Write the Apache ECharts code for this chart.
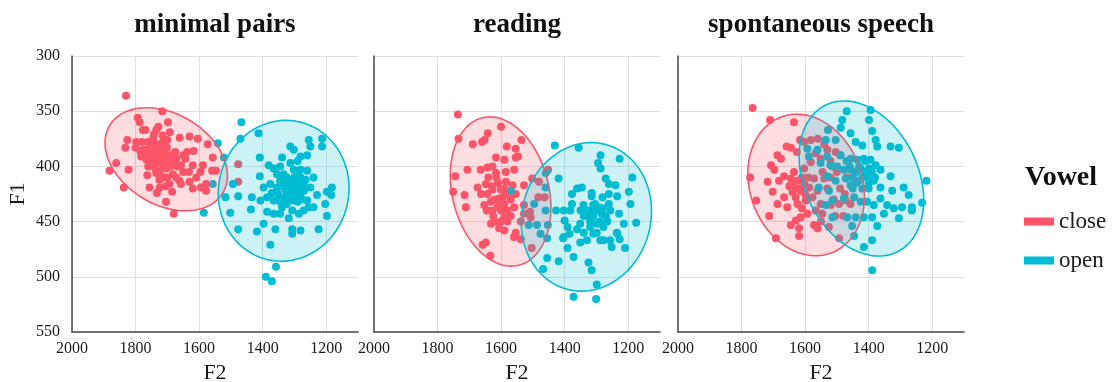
<!DOCTYPE html>
<html>
<head>
<meta charset="utf-8">
<script src="https://cdn.jsdelivr.net/npm/echarts@6/dist/echarts.min.js"></script>
<style>html,body{margin:0;padding:0;background:#fff}#c{width:1115px;height:382px}</style>
</head>
<body>
<div id="c"></div>
<script>
// ---------- data ----------
const panels = ['minimal pairs', 'reading', 'spontaneous speech'];
const vowels = ['close', 'open'];
const xTicks = [2000, 1800, 1600, 1400, 1200];
const yTicks = [300, 350, 400, 450, 500, 550];

// [F2, F1]
const mpClose = [[1830,336],[1716,350],[1793,356],[1787,360],[1698,360],[1728,364],[1735,367],[1742,371],[1777,367],[1769,367],[1692,369],[1661,374],[1630,373],[1604,375],[1573,380],[1826,376],[1832,383],[1800,383],[1785,386],[1769,389],[1753,386],[1722,383],[1701,383],[1675,387],[1638,387],[1617,386],[1861,397],[1882,404],[1822,403],[1837,419],[1782,391],[1766,394],[1750,391],[1735,396],[1714,399],[1693,390],[1672,393],[1657,399],[1620,399],[1588,399],[1557,392],[1547,404],[1763,408],[1735,406],[1704,402],[1683,407],[1662,413],[1630,414],[1609,410],[1578,416],[1756,419],[1724,419],[1693,416],[1657,416],[1733,424],[1685,423],[1620,420],[1578,422],[1704,432],[1680,443],[1477,398],[1477,414],[1798,378],[1761,378],[1740,381],[1714,378],[1742,386],[1727,390],[1706,391],[1680,396],[1643,393],[1632,405],[1596,405],[1559,404],[1594,419],[1774,385],[1672,410],[1724,405],[1750,378],[1710,388],[1690,400],[1745,398],[1720,395],[1700,410],[1650,405],[1760,400],[1745,375],[1730,380],[1715,372],[1700,376],[1755,392],[1738,402],[1712,410],[1695,395],[1668,400],[1650,390],[1725,412],[1705,418],[1760,385],[1780,378]];
const mpOpen = [[1467,360],[1470,375],[1541,379],[1522,392],[1413,370],[1409,392],[1557,416],[1585,442],[1517,428],[1502,442],[1477,427],[1477,457],[1494,416],[1437,439],[1418,459],[1397,452],[1376,471],[1360,457],[1358,491],[1390,500],[1371,504],[1381,399],[1365,402],[1339,392],[1313,382],[1302,385],[1281,391],[1260,390],[1255,376],[1250,382],[1213,375],[1213,382],[1397,419],[1376,416],[1355,419],[1345,413],[1334,407],[1324,410],[1313,419],[1302,416],[1292,407],[1281,410],[1260,404],[1271,416],[1240,410],[1229,426],[1198,423],[1182,419],[1184,426],[1203,434],[1198,445],[1224,457],[1407,431],[1386,428],[1365,431],[1345,428],[1324,425],[1302,431],[1281,428],[1260,431],[1255,437],[1271,440],[1286,443],[1307,440],[1318,447],[1345,443],[1365,443],[1386,441],[1307,457],[1307,461],[1281,458],[1355,407],[1302,403],[1313,397],[1281,403],[1250,419],[1324,434],[1371,424],[1339,437],[1292,424],[1240,437],[1409,409],[1434,428],[1330,420],[1310,425],[1290,432],[1350,425],[1320,415],[1300,410],[1270,422],[1335,430],[1340,415],[1325,418],[1315,412],[1305,422],[1295,415],[1285,420],[1345,432],[1330,428],[1318,430],[1300,425],[1275,430],[1265,412],[1345,400],[1290,395]];
const rdClose = [[1736,353],[1600,364],[1642,370],[1652,376],[1660,378],[1734,375],[1689,380],[1582,382],[1536,376],[1554,384],[1547,391],[1554,392],[1616,392],[1590,394],[1559,403],[1744,409],[1751,423],[1715,426],[1706,403],[1711,437],[1664,403],[1643,401],[1627,400],[1616,406],[1674,419],[1648,416],[1627,421],[1585,414],[1564,417],[1528,417],[1502,411],[1481,414],[1653,435],[1632,432],[1606,429],[1590,434],[1559,437],[1528,435],[1632,452],[1590,458],[1606,456],[1559,464],[1538,466],[1554,460],[1658,471],[1648,469],[1634,481],[1528,443],[1507,446],[1538,450],[1590,446],[1483,428],[1463,428],[1452,403],[1509,441],[1504,474],[1663,425],[1627,440],[1585,423],[1554,425],[1601,421],[1643,425],[1611,437],[1580,450],[1620,430],[1600,440],[1570,430],[1640,410],[1610,415],[1580,440],[1625,445],[1595,428],[1615,410],[1605,432],[1590,420],[1575,425],[1630,418],[1645,440],[1620,450],[1600,450],[1585,405],[1570,445]];
const rdOpen = [[1431,381],[1356,383],[1287,390],[1295,397],[1287,402],[1227,393],[1187,410],[1460,406],[1419,411],[1460,419],[1496,434],[1513,453],[1487,453],[1460,440],[1476,461],[1455,465],[1455,483],[1468,493],[1419,486],[1405,465],[1391,474],[1372,482],[1325,487],[1315,494],[1299,507],[1372,518],[1301,520],[1377,425],[1361,420],[1346,419],[1315,424],[1315,427],[1271,411],[1261,416],[1240,417],[1235,427],[1198,423],[1193,434],[1229,443],[1214,452],[1175,451],[1234,461],[1227,466],[1210,474],[1252,473],[1403,440],[1382,440],[1377,434],[1341,435],[1336,443],[1315,440],[1304,434],[1294,437],[1283,443],[1261,434],[1256,440],[1266,450],[1351,452],[1361,457],[1340,460],[1320,455],[1299,452],[1278,455],[1299,460],[1288,467],[1257,467],[1236,460],[1278,467],[1391,455],[1385,461],[1330,467],[1351,469],[1310,461],[1453,453],[1427,440],[1400,449],[1261,425],[1281,428],[1320,446],[1403,464],[1569,422],[1330,440],[1310,445],[1300,440],[1290,450],[1320,450],[1340,445],[1280,438],[1270,445],[1350,440],[1310,435]];
const ssClose = [[1765,347],[1710,358],[1635,360],[1773,410],[1754,431],[1713,445],[1692,465],[1619,463],[1616,376],[1603,378],[1658,382],[1645,383],[1626,387],[1687,390],[1676,393],[1707,399],[1697,403],[1718,414],[1702,423],[1682,413],[1666,409],[1645,411],[1624,413],[1603,416],[1587,419],[1614,422],[1640,423],[1666,428],[1687,434],[1656,437],[1624,434],[1598,431],[1577,428],[1561,422],[1551,434],[1567,440],[1593,443],[1614,446],[1629,449],[1645,453],[1619,456],[1572,453],[1561,456],[1546,443],[1519,435],[1493,434],[1472,431],[1457,434],[1493,465],[1582,376],[1567,388],[1551,393],[1530,385],[1504,387],[1514,400],[1582,396],[1603,402],[1635,405],[1572,411],[1540,411],[1620,420],[1600,425],[1650,418],[1590,410],[1630,428],[1610,438],[1540,380],[1520,395],[1500,405],[1530,420],[1510,430],[1480,445],[1550,450],[1490,420],[1470,410],[1525,455],[1545,405],[1560,375],[1640,415],[1625,420],[1610,410],[1595,430],[1490,390],[1475,425],[1505,445],[1520,410]];
const ssOpen = [[1469,350],[1394,349],[1483,358],[1488,365],[1399,358],[1389,368],[1528,367],[1535,376],[1504,376],[1457,370],[1441,378],[1420,381],[1378,376],[1373,382],[1331,382],[1305,383],[1593,384],[1588,391],[1561,385],[1530,391],[1488,390],[1457,393],[1436,394],[1415,393],[1394,394],[1378,399],[1363,403],[1399,402],[1425,402],[1457,403],[1478,403],[1499,400],[1520,399],[1551,397],[1530,409],[1504,413],[1472,411],[1457,417],[1431,413],[1405,409],[1384,413],[1363,419],[1331,409],[1326,422],[1290,419],[1274,426],[1295,437],[1264,437],[1232,433],[1218,413],[1305,447],[1264,440],[1557,419],[1525,422],[1514,431],[1478,429],[1446,428],[1425,432],[1405,432],[1384,435],[1363,429],[1342,435],[1321,438],[1352,443],[1373,454],[1389,446],[1415,446],[1441,446],[1467,446],[1452,454],[1446,463],[1415,473],[1389,467],[1389,494],[1535,435],[1514,446],[1450,410],[1420,420],[1400,420],[1470,395],[1440,405],[1430,400],[1410,405],[1420,410],[1440,415],[1400,415],[1390,405],[1410,395],[1380,410],[1450,420],[1460,400]];

const panelData = [[mpClose, mpOpen], [rdClose, rdOpen], [ssClose, ssOpen]];

// ---------- style ----------
const colors = ['#FB5468', '#00BCD4'];
const fills = ['rgba(251,84,104,0.2)', 'rgba(0,188,212,0.2)'];
const SERIF = '"Liberation Serif", "Times New Roman", serif';
const gridLefts = [72, 374, 678];
const gridW = 286, gridTop = 56, gridH = 276;

// 95% normal-theory data ellipse derived from the points
function dataEllipse(pts) {
  const n = pts.length;
  let mx = 0, my = 0;
  pts.forEach(p => { mx += p[0]; my += p[1]; });
  mx /= n; my /= n;
  let sxx = 0, syy = 0, sxy = 0;
  pts.forEach(p => { const dx = p[0] - mx, dy = p[1] - my; sxx += dx * dx; syy += dy * dy; sxy += dx * dy; });
  sxx /= (n - 1); syy /= (n - 1); sxy /= (n - 1);
  const r = Math.sqrt(2 * 3.1);
  const l11 = Math.sqrt(sxx), l21 = sxy / l11, l22 = Math.sqrt(Math.max(syy - l21 * l21, 0));
  const out = [];
  for (let k = 0; k < 120; k++) {
    const t = 2 * Math.PI * k / 120;
    const u = Math.cos(t), v = Math.sin(t);
    out.push([mx + r * l11 * u, my + r * (l21 * u + l22 * v)]);
  }
  return { center: [mx, my], poly: out };
}

const grids = [], xAxes = [], yAxes = [], series = [], graphics = [];
panels.forEach((name, i) => {
  grids.push({ left: gridLefts[i], top: gridTop, width: gridW, height: gridH, outerBoundsMode: 'none', containLabel: false });
  xAxes.push({
    gridIndex: i, type: 'value', min: 1100, max: 2000, interval: 100, inverse: true,
    name: 'F2', nameLocation: 'middle', nameGap: 28,
    nameTextStyle: { fontFamily: SERIF, fontSize: 22, color: '#1a1a1a' },
    axisLine: { show: true, lineStyle: { color: '#4a4a4a', width: 1.5 } },
    axisTick: { show: false },
    axisLabel: { formatter: v => xTicks.indexOf(v) >= 0 ? String(v) : '', fontFamily: SERIF, fontSize: 16, color: '#1a1a1a', margin: 9 },
    splitLine: { show: true, lineStyle: { color: ['rgba(0,0,0,0)', '#dedede'], width: 1 } }
  });
  yAxes.push({
    gridIndex: i, type: 'value', min: 300, max: 550, interval: 50, inverse: true,
    name: i === 0 ? 'F1' : '', nameLocation: 'middle', nameGap: 43, nameRotate: 90,
    nameTextStyle: { fontFamily: SERIF, fontSize: 22, color: '#1a1a1a' },
    axisLine: { show: true, lineStyle: { color: '#4a4a4a', width: 1.5 } },
    axisTick: { show: false },
    axisLabel: { show: i === 0, formatter: v => yTicks.indexOf(v) >= 0 ? String(v) : '', fontFamily: SERIF, fontSize: 16, color: '#1a1a1a', margin: 12 },
    splitLine: { show: true, lineStyle: { color: '#dedede', width: 1 } }
  });
  graphics.push({
    type: 'text', x: gridLefts[i] + gridW / 2, y: 25,
    style: { text: name, textAlign: 'center', textVerticalAlign: 'middle', font: 'bold 27px ' + SERIF, fill: '#111' }
  });
  // points
  panelData[i].forEach((pts, j) => {
    series.push({
      type: 'scatter', name: vowels[j], xAxisIndex: i, yAxisIndex: i,
      data: pts, symbolSize: 8, itemStyle: { color: colors[j], opacity: 1 }, z: 2 + j
    });
  });
  // ellipses
  panelData[i].forEach((pts, j) => {
    const e = dataEllipse(pts);
    series.push({
      type: 'custom', name: vowels[j], xAxisIndex: i, yAxisIndex: i, z: 5 + j,
      data: [e.center], silent: true,
      renderItem: (params, api) => ({
        type: 'polygon',
        shape: { points: e.poly.map(p => api.coord(p)) },
        style: { fill: fills[j], stroke: colors[j], lineWidth: 1.6 }
      })
    });
  });
});

const chart = echarts.init(document.getElementById('c'), null, { renderer: 'canvas' });
chart.setOption({
  backgroundColor: '#fff',
  animation: false,
  title: { text: 'Vowel', left: 1020, top: 159, textStyle: { fontFamily: SERIF, fontWeight: 'bold', fontSize: 28, color: '#111' } },
  legend: {
    orient: 'vertical', left: 1019, top: 205, itemWidth: 30, itemHeight: 8, itemGap: 16, icon: 'rect',
    data: vowels, textStyle: { fontFamily: SERIF, fontSize: 23, color: '#1a1a1a' }
  },
  grid: grids, xAxis: xAxes, yAxis: yAxes, series: series, graphic: graphics
});
</script>
</body>
</html>
